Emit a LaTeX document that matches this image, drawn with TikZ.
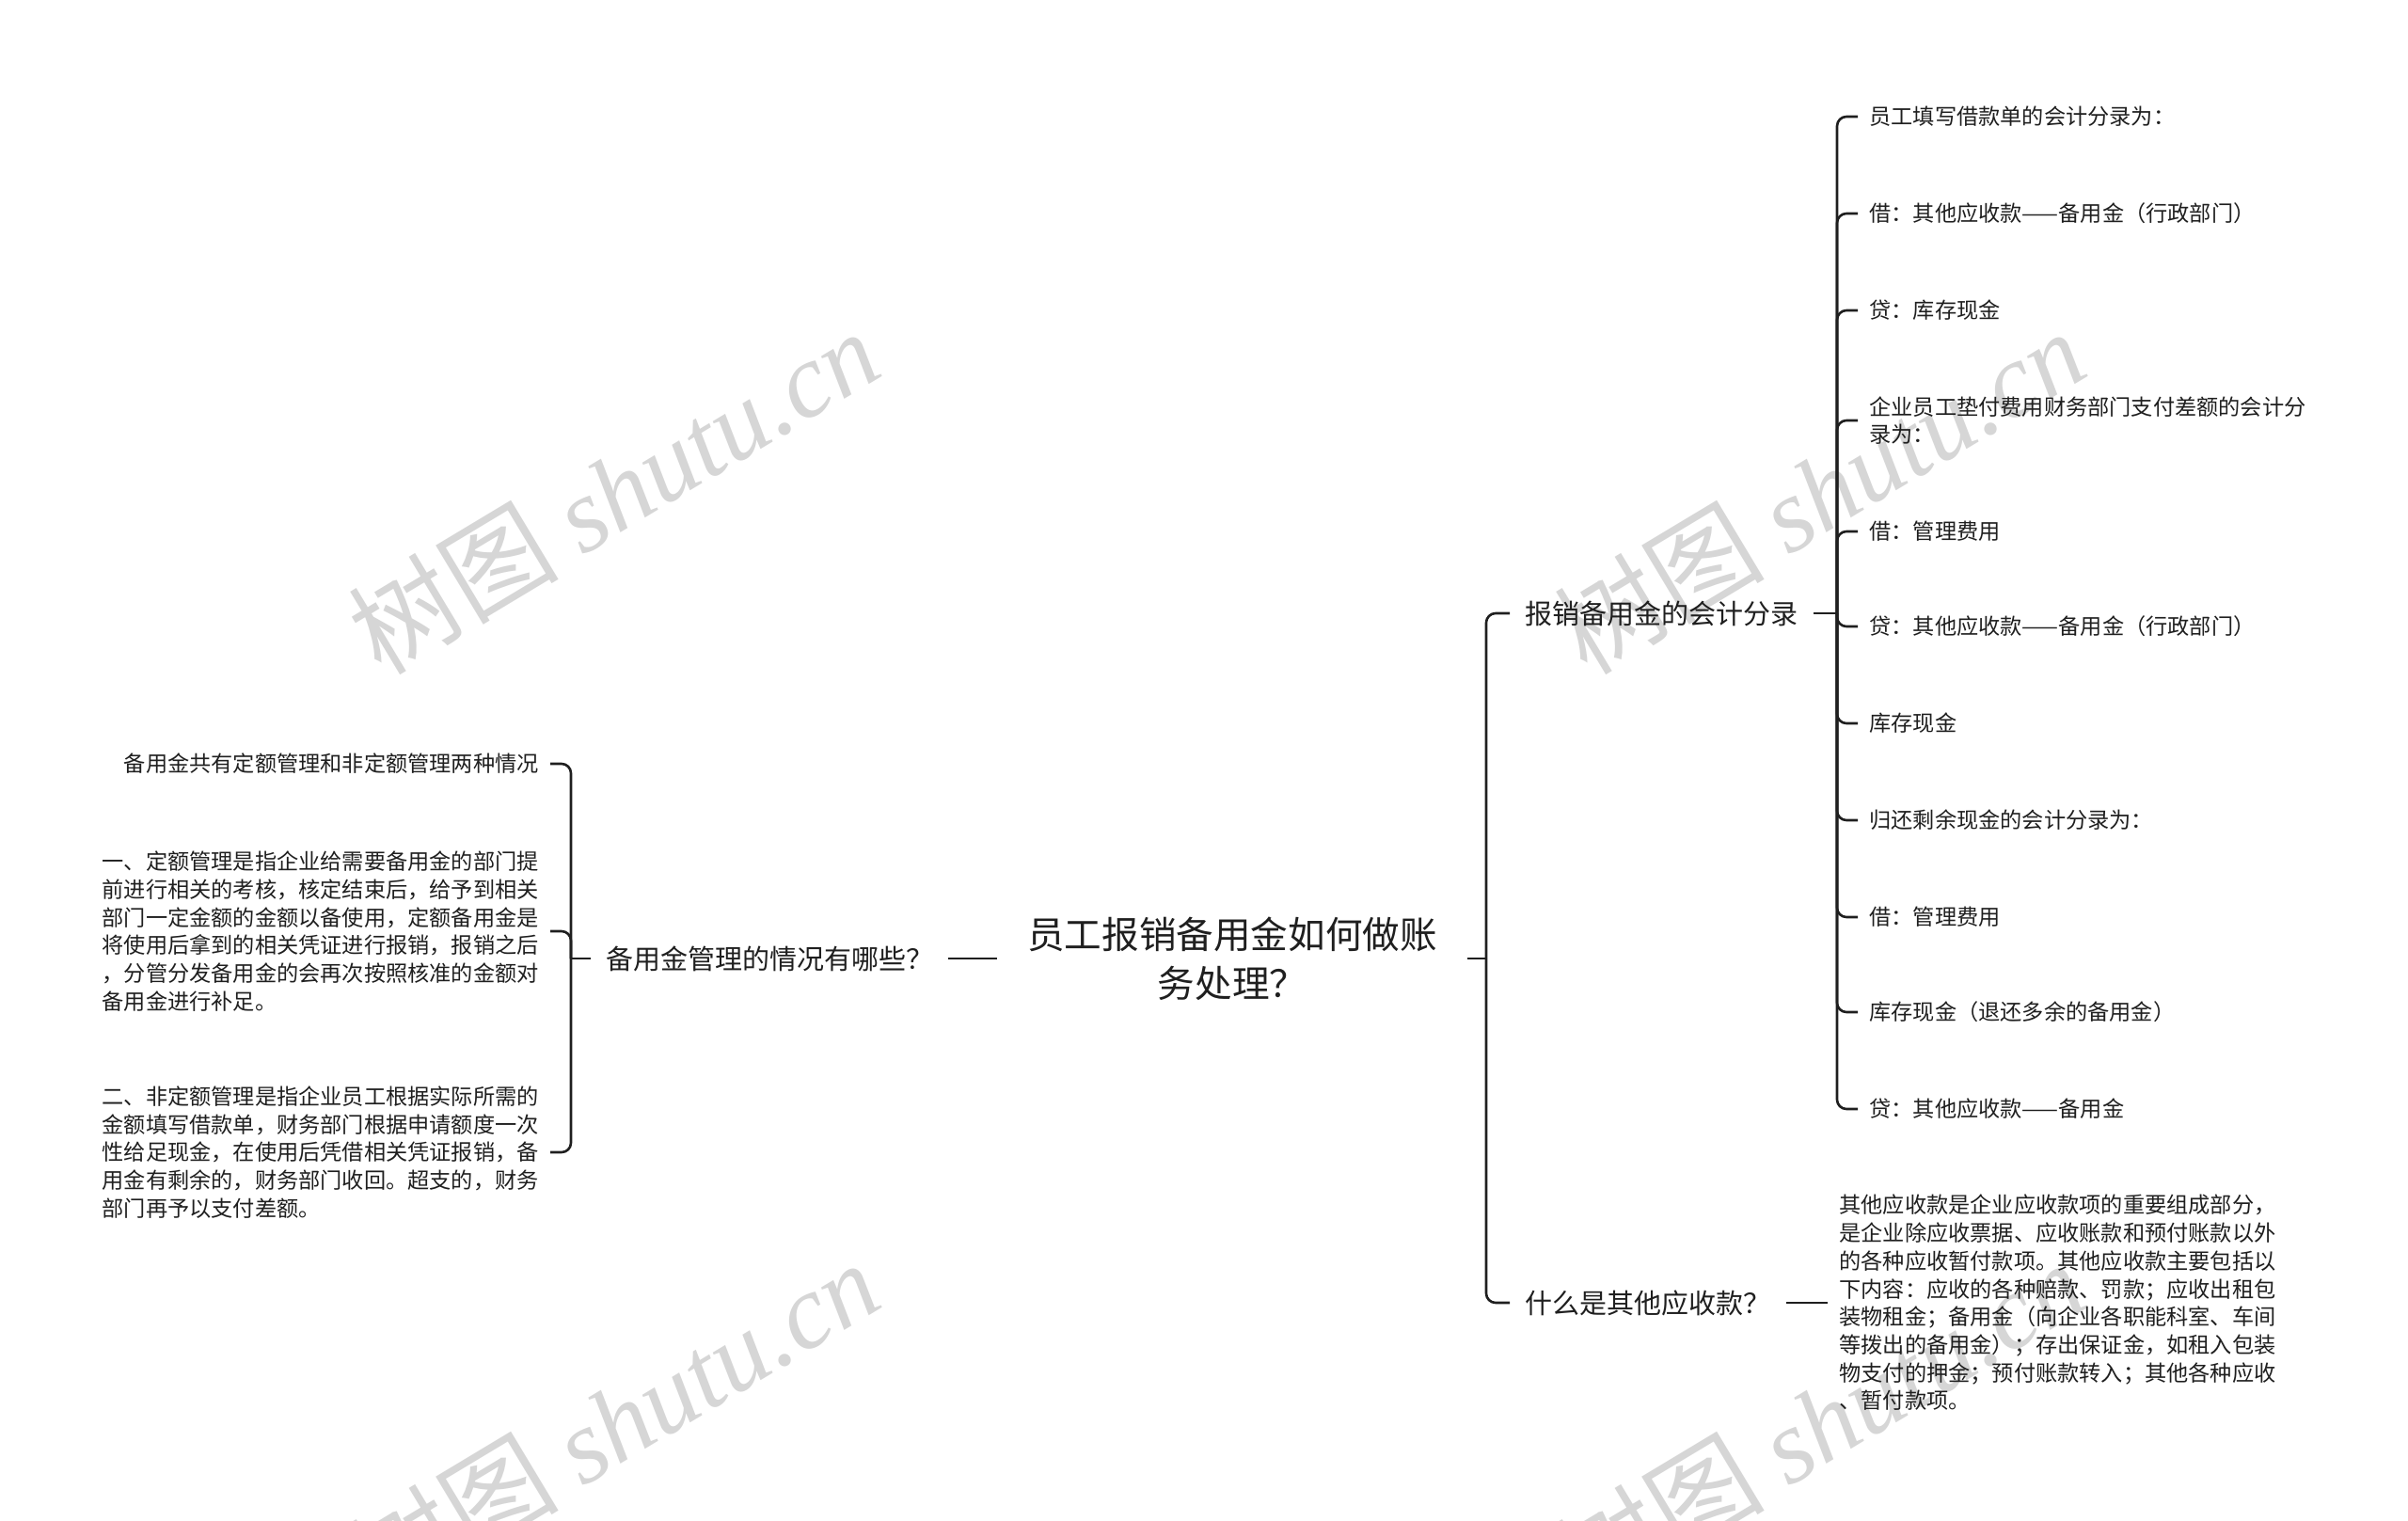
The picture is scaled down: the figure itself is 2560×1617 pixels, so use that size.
\documentclass[tikz,border=0pt]{standalone}
\usepackage{fontspec}
\setmainfont{Noto Sans CJK SC}
\newfontfamily\cjkfont{Noto Sans CJK SC}
\newfontfamily\wmlatin{Liberation Serif}
\tikzset{
  conn/.style={draw=black!88, line width=1.3pt},
  elbow/.style={conn, rounded corners=5pt},
  rootnode/.style={font=\fontsize{19.8}{26}\selectfont, align=center, inner xsep=16pt, inner ysep=0pt, text=black!88},
  midnode/.style={font=\fontsize{14.5}{18}\selectfont, inner xsep=8pt, inner ysep=0pt, text=black!88},
  leafnode/.style={font=\fontsize{11.6}{14.85}\selectfont, inner xsep=6pt, inner ysep=0pt, align=left, text=black!88},
  wm/.style={text=black!16, rotate=31, inner sep=0pt, font=\fontsize{56}{60}\selectfont}
}
\begin{document}
\begin{tikzpicture}[x=0.5pt,y=-0.5pt]
\useasboundingbox (0,0) rectangle (2560,1617);
% watermarks
\node[wm] (wm1) at (652,522) {\cjkfont 树图 \wmlatin\itshape shutu.cn};
\node[wm] (wm2) at (1934,522) {\cjkfont 树图 \wmlatin\itshape shutu.cn};
\node[wm] (wm3) at (652,1512) {\cjkfont 树图 \wmlatin\itshape shutu.cn};
\node[wm] (wm4) at (1934,1512) {\cjkfont 树图 \wmlatin\itshape shutu.cn};
% root
\node[rootnode] (root) at (1310,1019) {员工报销备用金如何做账\\务处理？};
% left branch
\node[midnode] (L) at (818,1019) {备用金管理的情况有哪些？};
\node[leafnode, anchor=east] (l1) at (585,812) {备用金共有定额管理和非定额管理两种情况};
\node[leafnode, anchor=east] (l2) at (585,990) {一、定额管理是指企业给需要备用金的部门提\\前进行相关的考核，核定结束后，给予到相关\\部门一定金额的金额以备使用，定额备用金是\\将使用后拿到的相关凭证进行报销，报销之后\\，分管分发备用金的会再次按照核准的金额对\\备用金进行补足。};
\node[leafnode, anchor=east] (l3) at (585,1225) {二、非定额管理是指企业员工根据实际所需的\\金额填写借款单，财务部门根据申请额度一次\\性给足现金，在使用后凭借相关凭证报销，备\\用金有剩余的，财务部门收回。超支的，财务\\部门再予以支付差额。};
\coordinate (Lbar) at (607,1019);
\draw[conn] (root.west) -- (L.east);
\draw[conn] (L.west) -- (Lbar);
\draw[elbow] (Lbar) |- (l1.east);
\draw[elbow] (Lbar) |- (l2.east);
\draw[elbow] (Lbar) |- (l3.east);
% right branch
\node[midnode, anchor=west] (R1) at (1605,652) {报销备用金的会计分录};
\node[midnode, anchor=west] (R2) at (1605,1385) {什么是其他应收款？};
\coordinate (Rbar) at (1580,1019);
\draw[conn] (root.east) -- (Rbar);
\draw[elbow] (Rbar) |- (R1.west);
\draw[elbow] (Rbar) |- (R2.west);
% leaves of R1
\node[leafnode, anchor=west] (r1) at (1975,124) {员工填写借款单的会计分录为：};
\node[leafnode, anchor=west] (r2) at (1975,227) {借：其他应收款——备用金（行政部门）};
\node[leafnode, anchor=west] (r3) at (1975,330) {贷：库存现金};
\node[leafnode, anchor=west] (r4) at (1975,447) {企业员工垫付费用财务部门支付差额的会计分\\录为：};
\node[leafnode, anchor=west] (r5) at (1975,565) {借：管理费用};
\node[leafnode, anchor=west] (r6) at (1975,666) {贷：其他应收款——备用金（行政部门）};
\node[leafnode, anchor=west] (r7) at (1975,769) {库存现金};
\node[leafnode, anchor=west] (r8) at (1975,872) {归还剩余现金的会计分录为：};
\node[leafnode, anchor=west] (r9) at (1975,975) {借：管理费用};
\node[leafnode, anchor=west] (r10) at (1975,1076) {库存现金（退还多余的备用金）};
\node[leafnode, anchor=west] (r11) at (1975,1179) {贷：其他应收款——备用金};
\coordinate (R1bar) at (1953,652);
\draw[conn] (R1.east) -- (R1bar);
\foreach \k in {1,...,11} {\draw[elbow] (R1bar) |- (r\k.west);}
% leaf of R2
\node[leafnode, anchor=west] (p) at (1943,1385) {其他应收款是企业应收款项的重要组成部分，\\是企业除应收票据、应收账款和预付账款以外\\的各种应收暂付款项。其他应收款主要包括以\\下内容：应收的各种赔款、罚款；应收出租包\\装物租金；备用金（向企业各职能科室、车间\\等拨出的备用金）；存出保证金，如租入包装\\物支付的押金；预付账款转入；其他各种应收\\、暂付款项。};
\draw[conn] (R2.east) -- (p.west);
\end{tikzpicture}
\end{document}
